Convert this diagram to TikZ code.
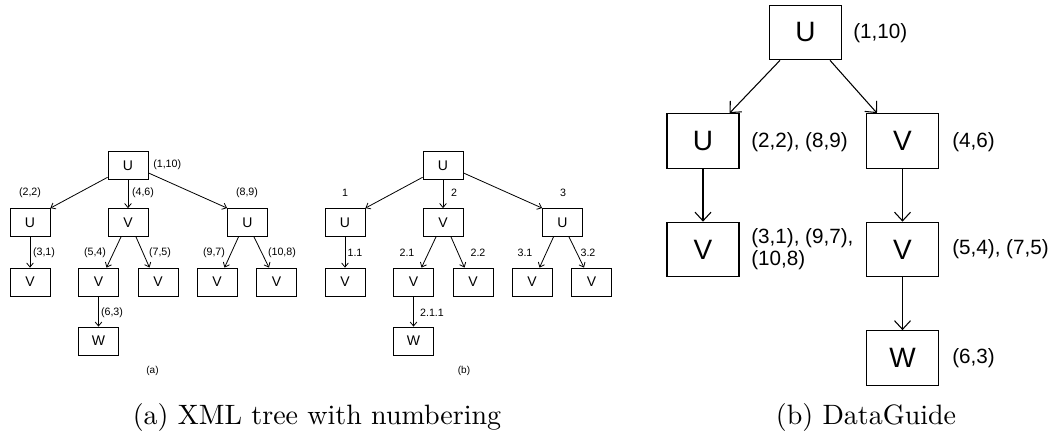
\documentclass[tikz,border=0pt]{standalone}
\usepackage{fontspec}
\newfontfamily\arial{Liberation Sans}
\newfontfamily\capfont{lmroman10-regular.otf}
\usetikzlibrary{calc,arrows.meta}
\begin{document}
\begin{tikzpicture}[x=0.75pt,y=-0.75pt,
  tbox/.style={draw,line width=0.6pt,minimum width=30pt,minimum height=21pt,inner sep=0pt,font=\arial\fontsize{10.5}{12}\selectfont},
  tlab/.style={inner sep=0pt,font=\arial\fontsize{8}{9.6}\selectfont},
  tsub/.style={inner sep=0pt,font=\arial\fontsize{7.5}{9}\selectfont},
  tarrow/.style={line width=0.6pt,-{Straight Barb[length=3pt,width=5pt]}},
  gbox/.style={draw,line width=0.8pt,minimum width=54pt,minimum height=41pt,inner sep=0pt,font=\arial\fontsize{21}{24}\selectfont},
  glab/.style={inner sep=0pt,anchor=west,align=left,font=\arial\fontsize{15.5}{16.5}\selectfont},
  garrow/.style={line width=0.8pt,-{Straight Barb[length=6.5pt,width=12pt]}},
  captext/.style={inner sep=0pt,font=\capfont\fontsize{21}{25}\selectfont}]
\useasboundingbox (0,0) rectangle (1048,436);

% ---------- (a) XML tree with (start,end) numbering ----------
\begin{scope}
\node[tbox] (ar) at (128,165.5) {U};
\node[tbox] (au1) at (30,222.5) {U};
\node[tbox] (av1) at (128,222.5) {V};
\node[tbox] (au2) at (247.5,222.5) {U};
\node[tbox] (av2) at (30,282) {V};
\node[tbox] (av3) at (98.5,282) {V};
\node[tbox] (av4) at (158,282) {V};
\node[tbox] (av5) at (217,282) {V};
\node[tbox] (av6) at (276.5,282) {V};
\node[tbox] (aw) at (98.5,341) {W};
\draw[tarrow] (ar.210) -- (au1.north east);
\draw[tarrow] (ar.south) -- (av1.north);
\draw[tarrow] (ar.-20) -- (au2.north west);
\draw[tarrow] (au1.south) -- (av2.north);
\draw[tarrow] ($(av1.south)+(-7,0)$) -- ($(av3.north)+(8,0)$);
\draw[tarrow] ($(av1.south)+(8,0)$) -- ($(av4.north)+(-8.5,0)$);
\draw[tarrow] ($(au2.south)+(-9,0)$) -- ($(av5.north)+(7.5,0)$);
\draw[tarrow] ($(au2.south)+(6.5,0)$) -- ($(av6.north)+(-7.5,0)$);
\draw[tarrow] (av3.south) -- (aw.north);
\node[tlab,anchor=west] (al0) at (153,165) {(1,10)};
\node[tlab] (al1) at (30,193) {(2,2)};
\node[tlab] (al2) at (143,193) {(4,6)};
\node[tlab] (al3) at (247,193) {(8,9)};
\node[tlab] (al4) at (44,253) {(3,1)};
\node[tlab] (al5) at (95,253) {(5,4)};
\node[tlab] (al6) at (160,253) {(7,5)};
\node[tlab] (al7) at (214,253) {(9,7)};
\node[tlab] (al8) at (282,253) {(10,8)};
\node[tlab] (al9) at (112,313) {(6,3)};
\node[tsub] (asub) at (152.5,371) {(a)};
\end{scope}

% ---------- (b) XML tree with Dewey numbering ----------
\begin{scope}[xshift=315*0.75pt]
\node[tbox] (br) at (128,165.5) {U};
\node[tbox] (bu1) at (30,222.5) {U};
\node[tbox] (bv1) at (128,222.5) {V};
\node[tbox] (bu2) at (247.5,222.5) {U};
\node[tbox] (bv2) at (30,282) {V};
\node[tbox] (bv3) at (98.5,282) {V};
\node[tbox] (bv4) at (158,282) {V};
\node[tbox] (bv5) at (217,282) {V};
\node[tbox] (bv6) at (276.5,282) {V};
\node[tbox] (bw) at (98.5,341) {W};
\draw[tarrow] (br.210) -- (bu1.north east);
\draw[tarrow] (br.south) -- (bv1.north);
\draw[tarrow] (br.-20) -- (bu2.north west);
\draw[tarrow] (bu1.south) -- (bv2.north);
\draw[tarrow] ($(bv1.south)+(-7,0)$) -- ($(bv3.north)+(8,0)$);
\draw[tarrow] ($(bv1.south)+(8,0)$) -- ($(bv4.north)+(-8.5,0)$);
\draw[tarrow] ($(bu2.south)+(-9,0)$) -- ($(bv5.north)+(7.5,0)$);
\draw[tarrow] ($(bu2.south)+(6.5,0)$) -- ($(bv6.north)+(-7.5,0)$);
\draw[tarrow] (bv3.south) -- (bw.north);
\node[tlab] (bl1) at (30,193) {1};
\node[tlab] (bl2) at (139,193) {2};
\node[tlab] (bl3) at (248,193) {3};
\node[tlab] (bl4) at (40,253) {1.1};
\node[tlab] (bl5) at (92,253) {2.1};
\node[tlab] (bl6) at (163,253) {2.2};
\node[tlab] (bl7) at (210,253) {3.1};
\node[tlab] (bl8) at (273,253) {3.2};
\node[tlab] (bl9) at (117,313) {2.1.1};
\node[tsub] (bsub) at (149,371) {(b)};
\end{scope}

% ---------- DataGuide ----------
\node[gbox] (gr) at (805.5,32.5) {U};
\node[gbox] (gu) at (703,141) {U};
\node[gbox] (gv) at (902.5,141) {V};
\node[gbox] (gv1) at (703,249.5) {V};
\node[gbox] (gv2) at (902.5,249.5) {V};
\node[gbox] (gw) at (902.5,358) {W};
\draw[garrow] ($(gr.south west)+(11,0)$) -- ($(gu.north east)+(-10,0)$);
\draw[garrow] ($(gr.south east)+(-12,0)$) -- ($(gv.north west)+(11,0)$);
\draw[garrow] (gu.south) -- (gv1.north);
\draw[garrow] (gv.south) -- (gv2.north);
\draw[garrow] (gv2.south) -- (gw.north);
\node[glab] (gl0) at (853,33) {(1,10)};
\node[glab] (gl1) at (751,142) {(2,2), (8,9)};
\node[glab] (gl2) at (952,142) {(4,6)};
\node[glab] (gl3) at (751,249) {(3,1), (9,7),\\(10,8)};
\node[glab] (gl4) at (952,249) {(5,4), (7,5)};
\node[glab] (gl5) at (952,358) {(6,3)};

% ---------- captions ----------
\node[captext,anchor=base] (capa) at (317,424) {(a) XML tree with numbering};
\node[captext,anchor=base] (capb) at (866,424) {(b) DataGuide};
\end{tikzpicture}
\end{document}
